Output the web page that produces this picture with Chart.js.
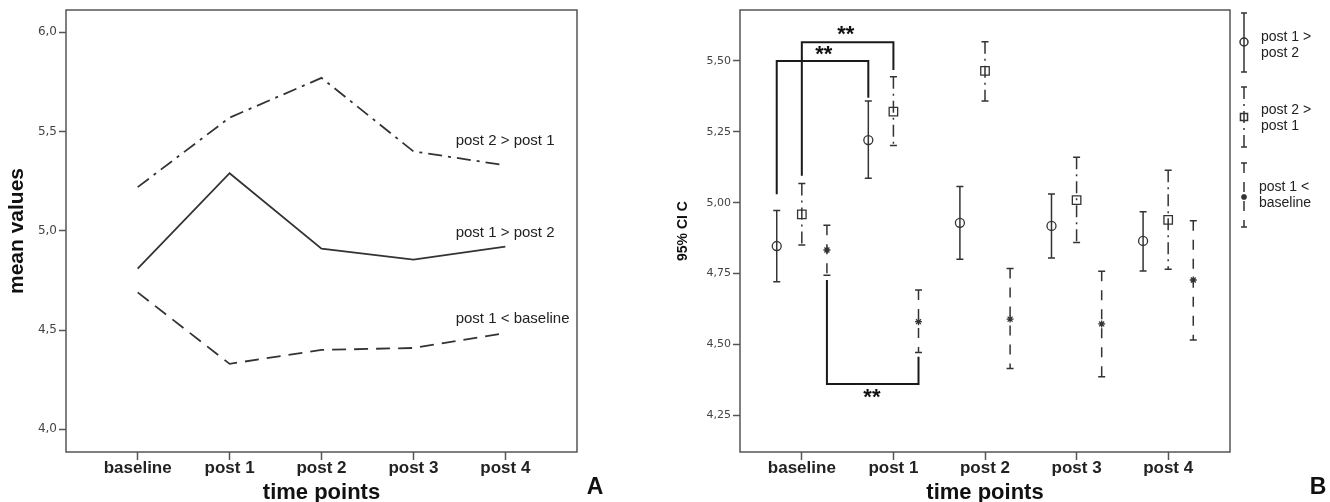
<!DOCTYPE html>
<html>
<head>
<meta charset="utf-8">
<script src="https://cdn.jsdelivr.net/npm/chart.js@4.4.1/dist/chart.umd.min.js"></script>
<style>
  html, body { margin: 0; padding: 0; background: #fff; }
  #wrapA { position: absolute; left: 0; top: 0; width: 620px; height: 502px; }
  #wrapB { position: absolute; left: 620px; top: 0; width: 710px; height: 502px; }
</style>
</head>
<body>
<div id="wrapA"><canvas id="chartA"></canvas></div>
<div id="wrapB"><canvas id="chartB"></canvas></div>
<script>
const timePoints = ['baseline', 'post 1', 'post 2', 'post 3', 'post 4'];

// Panel A - mean values per group
const meanPost2GtPost1 = [5.22, 5.57, 5.77, 5.40, 5.33];
const meanPost1GtPost2 = [4.81, 5.29, 4.91, 4.855, 4.92];
const meanPost1LtBase = [4.69, 4.33, 4.40, 4.41, 4.485];
const ticksA = [4.0, 4.5, 5.0, 5.5, 6.0];

// Panel B - 95% CI (mean, lower, upper)
const ciMeanP1P2 = [4.847, 5.221, 4.929, 4.918, 4.865];
const ciLowP1P2 = [4.721, 5.086, 4.800, 4.805, 4.759];
const ciHighP1P2 = [4.972, 5.359, 5.057, 5.031, 4.968];

const ciMeanP2P1 = [4.959, 5.321, 5.465, 5.009, 4.939];
const ciLowP2P1 = [4.851, 5.202, 5.359, 4.859, 4.765];
const ciHighP2P1 = [5.068, 5.444, 5.568, 5.160, 5.114];

const ciMeanP1Base = [4.833, 4.580, 4.589, 4.572, 4.727];
const ciLowP1Base = [4.744, 4.471, 4.415, 4.386, 4.515];
const ciHighP1Base = [4.920, 4.692, 4.768, 4.758, 4.936];
const ticksB = [4.25, 4.50, 4.75, 5.00, 5.25, 5.50];

// significance brackets in panel B (data units)
const bracketPaths = [
    [[-0.274, 5.03], [-0.274, 5.50], [0.726, 5.50], [0.726, 5.37]],
    [[0, 5.095], [0, 5.566], [1, 5.566], [1, 5.468]],
    [[0.274, 4.727], [0.274, 4.36], [1.274, 4.36], [1.274, 4.456]]
];
const bracketStars = [[0.24, 5.53], [0.48, 5.598], [0.765, 4.319]];

const INK = '#333';
const SANS = "'Liberation Sans', Arial, sans-serif";
const DASH_SOLID = [];
const DASH_DOT = [12, 5, 2, 5];
const DASH_LONG = [10, 9];

const fmt = (v, d) => v.toFixed(d).replace('.', ',');

// Frame around the plot area plus panel letter
const framePlugin = {
    id: 'frame',
    afterDraw(chart, args, opts) {
        const { ctx, chartArea: a } = chart;
        ctx.save();
        ctx.strokeStyle = '#555';
        ctx.lineWidth = 1.5;
        ctx.strokeRect(a.left, a.top, a.right - a.left, a.bottom - a.top);
        ctx.fillStyle = '#111';
        ctx.font = 'bold 23px ' + SANS;
        ctx.textAlign = 'center';
        ctx.textBaseline = 'middle';
        ctx.fillText(opts.letter, opts.x, opts.y);
        ctx.restore();
    }
};

// Text labels next to the lines in panel A
const seriesLabels = {
    id: 'seriesLabels',
    afterDatasetsDraw(chart, args, opts) {
        const { ctx, scales: { x, y } } = chart;
        ctx.save();
        ctx.fillStyle = '#222';
        ctx.font = '15px ' + SANS;
        ctx.textAlign = 'left';
        ctx.textBaseline = 'middle';
        opts.items.forEach(it => {
            ctx.fillText(it.text, x.getPixelForValue(it.x), y.getPixelForValue(it.y));
        });
        ctx.restore();
    }
};

function drawWhisker(ctx, px, top, bottom, dash, cap) {
    ctx.setLineDash(dash);
    ctx.beginPath();
    ctx.moveTo(px, top);
    ctx.lineTo(px, bottom);
    ctx.stroke();
    ctx.setLineDash([]);
    ctx.beginPath();
    ctx.moveTo(px - cap, top);
    ctx.lineTo(px + cap, top);
    ctx.moveTo(px - cap, bottom);
    ctx.lineTo(px + cap, bottom);
    ctx.stroke();
}

// Error bars drawn from the CI arrays through the chart scales
const errorBars = {
    id: 'errorBars',
    beforeDatasetsDraw(chart) {
        const { ctx, scales: { x, y } } = chart;
        ctx.save();
        ctx.strokeStyle = INK;
        ctx.lineWidth = 1.5;
        chart.data.datasets.forEach(ds => {
            ds.data.forEach((p, i) => {
                const px = x.getPixelForValue(p.x);
                drawWhisker(ctx, px, y.getPixelForValue(ds.high[i]), y.getPixelForValue(ds.low[i]), ds.whiskerDash, 3.5);
            });
        });
        ctx.restore();
    }
};

const brackets = {
    id: 'brackets',
    afterDatasetsDraw(chart) {
        const { ctx, scales: { x, y } } = chart;
        ctx.save();
        ctx.strokeStyle = '#1a1a1a';
        ctx.lineWidth = 2;
        bracketPaths.forEach(path => {
            ctx.beginPath();
            path.forEach(([vx, vy], k) => {
                const px = x.getPixelForValue(vx), py = y.getPixelForValue(vy);
                k ? ctx.lineTo(px, py) : ctx.moveTo(px, py);
            });
            ctx.stroke();
        });
        ctx.fillStyle = '#111';
        ctx.font = 'bold 22px ' + SANS;
        ctx.textAlign = 'center';
        ctx.textBaseline = 'alphabetic';
        bracketStars.forEach(([vx, vy]) => {
            ctx.fillText('**', x.getPixelForValue(vx), y.getPixelForValue(vy) + 8);
        });
        ctx.restore();
    }
};

// Legend of panel B, outside the frame on the right
const sideLegend = {
    id: 'sideLegend',
    afterDraw(chart, args, opts) {
        const { ctx } = chart;
        ctx.save();
        ctx.strokeStyle = INK;
        ctx.lineWidth = 1.5;
        opts.items.forEach(it => {
            drawWhisker(ctx, opts.x, it.top, it.bottom, it.dash, 3);
            ctx.fillStyle = 'rgba(0,0,0,0)';
            Chart.helpers.drawPoint(ctx, { pointStyle: it.style, radius: it.radius, borderWidth: 1.3 }, opts.x, it.mid);
            ctx.fillStyle = '#222';
            ctx.font = '14px ' + SANS;
            ctx.textAlign = 'left';
            ctx.textBaseline = 'middle';
            it.lines.forEach((t, k) => ctx.fillText(t, opts.x + it.dx, it.textY + k * 16));
        });
        ctx.restore();
    }
};

function axisX(min, max) {
    return {
        type: 'linear',
        min: min,
        max: max,
        afterBuildTicks: s => { s.ticks = timePoints.map((_, i) => ({ value: i })); },
        afterFit: s => { s.height = 50; },
        ticks: {
            callback: v => timePoints[v],
            autoSkip: false,
            maxRotation: 0,
            padding: 0,
            color: '#222',
            font: { family: SANS, size: 17, weight: 'bold', lineHeight: 1 }
        },
        grid: { drawOnChartArea: false, drawTicks: true, tickLength: 8, tickColor: '#555', tickWidth: 1.5 },
        border: { display: false },
        title: {
            display: true,
            text: 'time points',
            color: '#111',
            padding: 0,
            font: { family: SANS, size: 22, weight: 'bold', lineHeight: 0.8 }
        }
    };
}

function axisY(min, max, ticks, digits, width, title, titleSize, titlePad, tickSize) {
    return {
        type: 'linear',
        min: min,
        max: max,
        afterBuildTicks: s => { s.ticks = ticks.map(v => ({ value: v })); },
        afterFit: s => { s.width = width; },
        ticks: {
            callback: v => fmt(v, digits),
            padding: 2,
            color: '#444',
            font: { family: "'DejaVu Sans', sans-serif", size: tickSize }
        },
        grid: { drawOnChartArea: false, drawTicks: true, tickLength: 7, tickColor: '#555', tickWidth: 1.5 },
        border: { display: false },
        title: {
            display: true,
            text: title,
            color: '#111',
            padding: { top: titlePad, bottom: 0 },
            font: { family: SANS, size: titleSize, weight: 'bold' }
        }
    };
}

const lineDs = (label, values, dash) => ({
    label: label,
    data: values.map((v, i) => ({ x: i, y: v })),
    borderColor: INK,
    borderWidth: 1.8,
    borderDash: dash,
    pointRadius: 0,
    tension: 0,
    fill: false
});

new Chart(document.getElementById('chartA'), {
    type: 'line',
    data: {
        datasets: [
            lineDs('post 2 > post 1', meanPost2GtPost1, [14, 6, 3, 6]),
            lineDs('post 1 > post 2', meanPost1GtPost2, []),
            lineDs('post 1 < baseline', meanPost1LtBase, [14, 8])
        ]
    },
    options: {
        responsive: true,
        maintainAspectRatio: false,
        animation: false,
        layout: { padding: { top: 10, right: 43, left: 0, bottom: 0 } },
        plugins: {
            legend: { display: false },
            tooltip: { enabled: false },
            frame: { letter: 'A', x: 595, y: 488 },
            seriesLabels: {
                items: [
                    { text: 'post 2 > post 1', x: 3.46, y: 5.453 },
                    { text: 'post 1 > post 2', x: 3.46, y: 4.99 },
                    { text: 'post 1 < baseline', x: 3.46, y: 4.559 }
                ]
            }
        },
        scales: {
            x: axisX(-0.78, 4.78),
            y: axisY(3.886, 6.112, ticksA, 1, 66, 'mean values', 21, 5, 12)
        }
    },
    plugins: [framePlugin, seriesLabels]
});

const ciDs = (label, means, lows, highs, offset, style, radius, dash) => ({
    label: label,
    data: means.map((v, i) => ({ x: i + offset, y: v })),
    low: lows,
    high: highs,
    whiskerDash: dash,
    showLine: false,
    pointStyle: style,
    pointRadius: radius,
    pointBorderColor: INK,
    pointBackgroundColor: 'rgba(0,0,0,0)',
    pointBorderWidth: 1.3
});

new Chart(document.getElementById('chartB'), {
    type: 'line',
    data: {
        datasets: [
            ciDs('post 1 > post 2', ciMeanP1P2, ciLowP1P2, ciHighP1P2, -0.274, 'circle', 4.5, DASH_SOLID),
            ciDs('post 2 > post 1', ciMeanP2P1, ciLowP2P1, ciHighP2P1, 0, 'rect', 6, DASH_DOT),
            ciDs('post 1 < baseline', ciMeanP1Base, ciLowP1Base, ciHighP1Base, 0.274, 'star', 3.5, DASH_LONG)
        ]
    },
    options: {
        responsive: true,
        maintainAspectRatio: false,
        animation: false,
        layout: { padding: { top: 10, right: 100, left: 0, bottom: 0 } },
        plugins: {
            legend: { display: false },
            tooltip: { enabled: false },
            frame: { letter: 'B', x: 698, y: 488 },
            sideLegend: {
                x: 624,
                items: [
                    { top: 13, bottom: 72, mid: 42, style: 'circle', radius: 4, dash: DASH_SOLID, dx: 17, textY: 37, lines: ['post 1 >', 'post 2'] },
                    { top: 87, bottom: 147, mid: 117, style: 'rect', radius: 5, dash: DASH_DOT, dx: 17, textY: 110, lines: ['post 2 >', 'post 1'] },
                    { top: 163, bottom: 227, mid: 197, style: 'star', radius: 3, dash: DASH_LONG, dx: 15, textY: 187, lines: ['post 1 <', 'baseline'] }
                ]
            }
        },
        scales: {
            x: axisX(-0.675, 4.675),
            y: axisY(4.12, 5.68, ticksB, 2, 120, '95% CI C', 14, 55, 11)
        }
    },
    plugins: [errorBars, brackets, framePlugin, sideLegend]
});
</script>
</body>
</html>
